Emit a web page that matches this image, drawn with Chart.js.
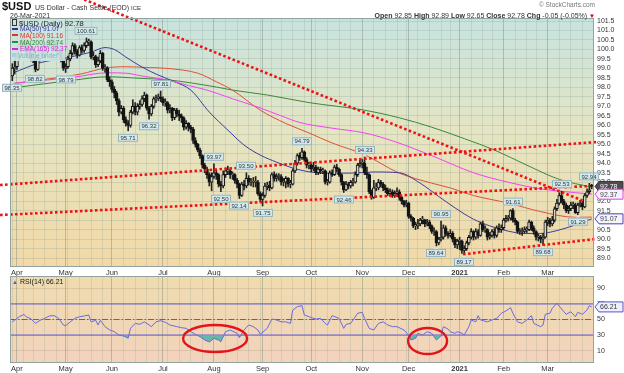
<!DOCTYPE html>
<html><head><meta charset="utf-8">
<script src="https://cdn.jsdelivr.net/npm/chart.js@4.4.1/dist/chart.umd.min.js"></script>
<style>
html,body{margin:0;padding:0;background:#fff;}
#wrap{position:relative;width:624px;height:373px;overflow:hidden;font-family:"Liberation Sans",Arial,sans-serif;color:#222;}
canvas{position:absolute;left:0;}
.t{position:absolute;white-space:nowrap;line-height:1;}
.mk{display:inline-block;width:6px;height:2px;vertical-align:middle;margin-right:2px;position:relative;top:-1px;}
</style></head><body>
<div id="wrap">
<canvas id="cMain" width="624" height="276" style="top:0;width:624px;height:276px"></canvas>
<canvas id="cRsi" width="624" height="105" style="top:268px;width:624px;height:105px"></canvas>
<div class="t" style="left:2px;top:1px;font-size:11px;font-weight:bold;color:#111">$USD</div>
<div class="t" style="left:35px;top:3.5px;font-size:7px;color:#333">US Dollar - Cash Settle (EOD) <span style="font-size:6px">ICE</span></div>
<div class="t" style="left:10px;top:12px;font-size:7px;color:#333">26-Mar-2021</div>
<div class="t" style="right:29px;top:2px;font-size:6.5px;color:#777">© StockCharts.com</div>
<div class="t" style="right:29px;top:11.5px;font-size:7px;color:#333"><b>Open</b> 92.85 <b>High</b> 92.89 <b>Low</b> 92.65 <b>Close</b> 92.78 <b>Chg</b> -0.05 (-0.05%) <span style="color:#c00;font-size:6px">▼</span></div>
<div style="position:absolute;left:11px;top:19px;width:54px;height:42px;background:rgba(204,228,223,0.92)"></div>
<div class="t" style="left:12px;top:19.5px;font-size:7.5px;color:#222"><span style="display:inline-block;width:3px;height:5px;border:1px solid #333;margin-right:2px;vertical-align:middle;position:relative;top:-1px"></span>$USD (Daily) 92.78</div>
<div class="t" style="left:12px;top:26.3px;font-size:6.5px;color:#33339a"><span class="mk" style="background:#33339a"></span>MA(50) 91.07</div>
<div class="t" style="left:12px;top:33px;font-size:6.5px;color:#dd3322"><span class="mk" style="background:#dd3322"></span>MA(100) 91.16</div>
<div class="t" style="left:12px;top:39.7px;font-size:6.5px;color:#2f8a2f"><span class="mk" style="background:#2f8a2f"></span>MA(200) 92.74</div>
<div class="t" style="left:12px;top:46.4px;font-size:6.5px;color:#e020e0"><span class="mk" style="background:#e020e0"></span>EMA(165) 92.37</div>
<div class="t" style="left:12px;top:53.1px;font-size:6.5px;color:#7fb2d0"><span class="mk" style="background:#a9cfe0;height:4px;width:4px"></span>Volume undef</div>
<div class="t" style="left:12px;top:278px;font-size:7px;color:#222"><span style="color:#4466cc;font-size:6px">▲</span> RSI(14) 66.21</div>
</div>
<script>
// ---------- data ----------
const opens = [
98.60,99.00,
99.10,99.62,100.20,100.45,100.50,99.90,100.10,99.55,99.50,98.95,99.50,99.90,99.70,99.90,100.25,100.40,100.45,100.40,100.00,99.90,99.50,
99.00,99.10,99.50,99.80,100.20,99.90,99.70,100.10,99.95,100.20,100.40,100.40,99.60,99.62,99.20,99.40,99.80,99.00,99.00,98.40,
98.30,97.90,97.70,97.30,96.70,96.90,96.30,96.10,96.00,96.70,97.00,96.70,97.00,97.10,97.40,97.60,96.90,96.60,97.00,97.40,97.40,97.50,
97.40,97.20,97.20,96.80,96.90,96.40,96.80,96.60,96.50,96.40,95.90,96.10,95.90,95.80,95.20,95.00,94.70,94.40,93.90,93.70,93.40,93.00,
93.30,93.50,93.40,92.90,92.80,93.40,93.60,93.60,93.40,93.40,93.10,92.90,92.30,92.90,92.80,93.20,93.00,93.00,93.00,93.00,92.40,
92.10,92.30,92.80,92.80,92.70,93.40,93.20,93.30,93.30,93.00,93.00,93.20,92.90,92.90,93.60,94.00,94.40,94.30,94.60,94.20,93.90,
93.90,93.70,93.80,93.50,93.70,93.60,93.60,93.00,93.00,93.50,93.40,93.80,93.70,93.40,93.00,92.60,92.90,92.80,93.00,93.00,93.40,93.90,
94.00,94.00,93.50,93.40,92.50,92.20,92.70,92.70,93.00,92.90,92.70,92.60,92.40,92.50,92.30,92.40,92.50,92.20,92.00,91.80,
91.90,91.20,91.10,90.70,90.70,90.80,91.00,91.00,90.80,90.90,90.70,90.40,90.40,89.80,90.00,90.10,90.60,90.30,90.20,90.30,90.00,89.70,
89.90,89.90,89.40,89.50,89.80,90.10,90.40,90.10,90.40,90.20,90.80,90.50,90.50,90.10,90.20,90.40,90.20,90.60,90.50,
90.60,91.00,91.10,91.10,91.50,91.00,90.90,90.40,90.40,90.40,90.50,90.50,90.90,90.60,90.40,90.10,90.10,90.00,90.10,
90.90,91.00,90.80,91.00,91.60,91.90,92.30,92.00,91.80,91.50,91.60,91.80,91.80,91.40,91.80,91.90,91.70,92.30,92.50,92.85];
const highs = [
99.25,99.45,
99.80,100.35,100.55,100.58,100.55,100.30,100.20,99.80,99.60,99.65,100.05,100.00,100.05,100.40,100.55,100.58,100.55,100.45,100.15,100.00,99.55,
99.25,99.65,99.95,100.35,100.30,100.00,100.20,100.25,100.35,100.61,100.55,100.45,99.85,99.70,99.60,99.95,99.85,99.20,99.10,98.55,
98.40,98.05,97.80,97.40,97.05,97.00,96.45,96.25,96.80,97.35,97.20,97.15,97.30,97.55,97.75,97.65,97.00,97.10,97.50,97.60,97.65,97.81,
97.50,97.40,97.25,97.10,96.95,96.90,96.90,96.80,96.60,96.45,96.25,96.15,96.00,95.90,95.35,95.05,94.80,94.45,94.00,93.80,93.50,93.50,
93.97,93.65,93.45,93.05,93.60,93.75,93.85,93.70,93.55,93.45,93.20,92.95,93.00,93.10,93.50,93.35,93.20,93.25,93.30,93.10,92.50,
92.45,92.95,93.00,93.05,93.50,93.55,93.45,93.45,93.40,93.20,93.30,93.25,93.10,93.70,94.15,94.50,94.55,94.79,94.65,94.30,94.05,
94.00,94.05,93.90,93.80,93.80,93.75,93.65,93.15,93.60,93.65,93.90,93.95,93.75,93.45,93.05,93.05,93.00,93.10,93.20,93.55,94.00,94.15,
94.20,94.33,93.80,93.45,92.60,93.10,92.95,93.15,93.10,93.00,92.85,92.70,92.65,92.60,92.55,92.70,92.60,92.25,92.05,92.05,
91.95,91.30,91.15,90.90,91.05,91.10,91.20,91.05,91.05,91.00,90.75,90.60,90.45,90.10,90.95,90.75,90.70,90.40,90.50,90.40,90.10,90.00,
90.10,89.95,89.65,89.90,90.20,90.55,90.45,90.55,90.50,90.90,90.95,90.70,90.55,90.35,90.50,90.55,90.70,90.80,90.75,
91.10,91.25,91.25,91.55,91.61,91.10,90.95,90.55,90.60,90.65,90.65,91.00,90.95,90.70,90.45,90.25,90.20,90.30,91.00,
91.15,91.10,91.20,91.70,92.10,92.45,92.53,92.10,91.90,91.75,91.95,91.95,91.90,91.90,92.05,92.00,92.40,92.65,92.94,92.89];
const lows = [
98.35,98.70,
98.95,99.45,100.05,100.20,99.75,99.70,99.40,99.30,98.82,98.90,99.40,99.55,99.55,99.80,100.10,100.20,100.15,99.85,99.70,99.35,98.90,
98.79,99.00,99.40,99.70,99.75,99.55,99.65,99.80,99.85,100.10,100.20,99.50,99.45,99.05,99.10,99.30,98.90,98.80,98.30,98.05,
97.75,97.45,97.10,96.50,96.60,96.15,95.95,95.71,95.90,96.60,96.55,96.55,96.85,97.00,97.25,96.80,96.32,96.50,96.90,97.20,97.30,97.25,
97.05,97.00,96.65,96.65,96.25,96.30,96.45,96.25,96.15,95.75,95.80,95.70,95.60,95.05,94.85,94.60,94.25,93.75,93.50,93.20,92.80,92.55,
93.20,93.15,92.75,92.50,92.70,93.25,93.40,93.20,93.15,92.95,92.70,92.14,92.25,92.60,92.70,92.85,92.80,92.75,92.75,92.30,91.95,
91.75,92.20,92.60,92.55,92.65,93.05,93.05,93.10,92.85,92.80,92.70,92.75,92.70,92.85,93.50,93.90,94.15,94.20,94.10,93.75,93.70,
93.55,93.60,93.40,93.40,93.45,93.45,92.90,92.85,92.95,93.30,93.35,93.55,93.30,92.85,92.46,92.55,92.65,92.70,92.80,92.95,93.30,93.80,
93.75,93.40,93.20,92.40,92.10,92.15,92.55,92.60,92.75,92.55,92.45,92.30,92.25,92.20,92.20,92.25,92.05,91.85,91.70,91.70,
91.10,90.95,90.60,90.50,90.55,90.70,90.80,90.65,90.70,90.55,90.30,90.20,89.64,89.70,89.90,90.00,90.15,90.05,90.10,89.85,89.55,89.50,
89.45,89.25,89.17,89.40,89.70,90.00,89.95,90.00,90.05,90.15,90.40,90.35,89.95,90.00,90.10,90.05,90.10,90.35,90.35,
90.50,90.90,90.95,91.00,90.90,90.75,90.30,90.25,90.20,90.30,90.35,90.45,90.45,90.25,89.95,89.90,89.80,89.68,90.05,
90.70,90.65,90.70,90.90,91.50,91.80,91.90,91.60,91.40,91.35,91.50,91.60,91.35,91.29,91.70,91.55,91.65,92.20,92.40,92.65];
const closes = [
99.02,99.05,
99.60,100.20,100.45,100.50,99.90,100.10,99.52,99.50,98.95,99.50,99.90,99.70,99.90,100.25,100.40,100.45,100.40,100.00,99.90,99.50,99.02,
99.10,99.50,99.80,100.20,99.90,99.70,100.10,99.95,100.20,100.40,100.40,99.60,99.62,99.20,99.40,99.80,99.00,99.00,98.40,98.30,
97.90,97.70,97.30,96.70,96.90,96.30,96.10,96.00,96.70,97.00,96.70,97.00,97.10,97.40,97.60,96.90,96.60,97.00,97.40,97.40,97.50,97.40,
97.20,97.20,96.80,96.90,96.40,96.80,96.60,96.50,96.40,95.90,96.10,95.90,95.80,95.20,95.00,94.70,94.40,93.90,93.70,93.40,93.00,93.30,
93.50,93.40,92.90,92.80,93.40,93.60,93.60,93.40,93.40,93.10,92.90,92.30,92.90,92.80,93.20,93.00,93.00,93.00,93.00,92.40,92.10,
92.30,92.80,92.80,92.70,93.40,93.20,93.30,93.30,93.00,93.00,93.20,92.90,92.90,93.60,94.00,94.40,94.30,94.60,94.20,93.90,93.90,
93.70,93.80,93.50,93.70,93.60,93.60,93.00,93.00,93.50,93.40,93.80,93.70,93.40,93.00,92.60,92.90,92.80,93.00,93.00,93.40,93.90,94.00,
94.00,93.50,93.40,92.50,92.20,92.70,92.70,93.00,92.90,92.70,92.60,92.40,92.50,92.30,92.40,92.50,92.20,92.00,91.80,91.90,
91.20,91.10,90.70,90.70,90.80,91.00,91.00,90.80,90.90,90.70,90.40,90.40,89.80,90.00,90.10,90.60,90.30,90.20,90.30,90.00,89.70,89.90,
89.90,89.40,89.50,89.80,90.10,90.40,90.10,90.40,90.20,90.80,90.50,90.50,90.10,90.20,90.40,90.20,90.60,90.50,90.60,
91.00,91.10,91.10,91.50,91.00,90.90,90.40,90.40,90.40,90.50,90.50,90.90,90.60,90.40,90.10,90.10,90.00,90.10,90.90,
91.00,90.80,91.00,91.60,91.90,92.30,92.00,91.80,91.50,91.60,91.80,91.80,91.40,91.80,91.90,91.70,92.30,92.50,92.60,92.78];

// moving averages (trading-day index, value)
const ma50Days  = [0,12,23,34,40,44,49,56,63,70,77,85,93,100,107,114,121,128,135,146,156,167,176,184,191,199,206,214,221,228,235,243,250];
const ma50Vals  = [98.75,99.3,99.55,99.86,100.1,100.0,99.6,99.07,98.65,98.3,97.86,96.7,95.75,94.96,94.43,94.06,93.75,93.55,93.48,93.48,93.54,93.5,92.95,92.25,91.65,91.05,90.7,90.42,90.3,90.3,90.45,90.75,91.07];
const ma100Days = [0,10,20,30,40,49,58,67,80,88,95,107,118,128,138,152,167,181,189,199,214,228,243,250];
const ma100Vals = [98.2,98.36,98.52,98.72,99.02,99.09,99.05,99.0,98.75,98.3,97.86,96.8,96.1,95.6,95.07,94.45,93.48,92.95,92.7,92.3,91.9,91.45,91.15,91.16];
const ma200Days = [0,27,41,55,67,88,95,110,128,152,167,181,195,208,222,236,250];
const ma200Vals = [97.97,98.39,98.56,98.48,98.4,98.02,97.86,97.6,97.2,96.8,96.4,95.9,95.3,94.7,93.9,93.15,92.74];
const ema165Days = [0,12,27,41,49,56,67,76,84,95,106,116,124,138,152,166,181,199,214,228,243,250];
const ema165Vals = [98.2,98.35,98.55,98.77,98.75,98.6,98.39,98.1,97.86,97.4,96.96,96.5,96.15,95.85,95.6,95.1,94.4,93.5,93.0,92.65,92.45,92.37];

// RSI(14)
const rsiDays = [0,1,3,5,6,8,9,10,12,14,16,18,20,22,23,25,27,29,31,33,34,36,37,38,40,42,44,46,48,50,51,53,55,57,59,60,62,64,66,68,71,73,75,77,79,81,83,85,87,89,90,92,94,97,98,100,102,104,106,107,110,112,114,116,118,120,121,123,125,126,128,129,131,133,135,136,138,141,143,144,146,149,151,152,154,156,158,160,162,164,166,169,171,172,174,175,177,179,181,182,183,185,186,188,189,191,192,194,195,197,198,200,201,202,205,207,209,211,213,215,216,218,220,222,224,225,228,229,230,232,233,235,237,239,241,243,244,246,248,249,250];
const rsiVals = [47,49,53.6,56.5,53.6,51,48,45,49,51.5,54.5,55,51.5,43,42,47,51.5,53.6,54.5,55.8,47,49,43,49,40.8,36.5,34.3,30,28.7,26,38.6,45,43.8,47,43,40.8,47,48.5,46.4,43,40.8,39.5,38.6,34.3,30.9,27.9,23.6,21,25.7,23.6,21.4,34.3,36.5,32.2,26.6,36.5,43,40.8,36.5,30.9,38.6,50.6,49.4,47,47,45,62,66.6,67.8,55.8,53.6,52.4,50.6,51.5,45,43,55,51.5,38.6,43.8,45,58,59.2,51.5,38.6,36.5,45,47,43,40.8,40.8,36.5,30,23.6,25.7,32.2,30,34.3,32.2,27.9,23.6,29.1,40.8,37.7,34.3,32.2,34.3,32.2,30,40.8,49.4,47,55,49.4,47,49.4,51.5,58,61,65.3,58,47,45,49.4,55,45,40.8,43,56.7,58,64.4,70.9,63.5,56.7,60,53.6,59.2,56.7,62.3,67.8,66.21];
const rsiLevels = [70, 50, 30];

// swing labels
const labelDays = [0,10,23,32,50,59,64,87,90,98,101,108,125,143,152,183,185,195,216,229,237,244,249];
const labelVals = [98.35,98.82,98.79,100.61,95.71,96.32,97.81,93.97,92.50,92.14,93.50,91.75,94.79,92.46,94.33,89.64,90.95,89.17,91.61,89.68,92.53,91.29,92.94];
const labelAbove = [0,0,0,1,0,0,1,1,0,0,1,0,1,0,1,0,1,0,1,0,1,0,1];

// hand-drawn trend lines [startDay, startVal, endDay, endVal]
const trendLines = [[25,102.93,246.3,92.02],[-5.3,92.85,252.3,95.12],[-5.3,91.27,249.3,92.8],[194.5,89.2,251.2,90.0]];
// hand-drawn ellipses on RSI [centerDay, centerRsi, halfDays, halfRsi]
const rsiEllipses = [[87.5,25.5,13.8,17.4],[179.2,22.3,8.4,16.8]];

// axes
const monthStarts = [2,23,43,65,87,108,129,151,171,193,212,231];
const monthNames  = ['Apr','May','Jun','Jul','Aug','Sep','Oct','Nov','Dec','2021','Feb','Mar'];
const weekStarts  = [0,5,9,14,19,24,29,34,39,43,48,53,58,63,67,72,77,82,87,92,97,102,107,112,116,121,126,131,136,141,146,151,156,161,166,170,175,180,185,189,193,198,203,207,212,217,222,226,231,236,241,246];
const priceTicks = [89.0,89.5,90.0,90.5,91.0,91.5,92.0,92.5,93.0,93.5,94.0,94.5,95.0,95.5,96.0,96.5,97.0,97.5,98.0,98.5,99.0,99.5,100.0,100.5,101.0,101.5];
const rsiTicks = [10,30,50,70,90];
const lastTags = [[92.78,'dark'],[92.37,'#e040e0'],[91.07,'#4444bb']];
const rsiLast = 66.21;

// ---------- chart ----------
Chart.defaults.font.family = '"Liberation Sans", Arial, sans-serif';
const FONT = '"Liberation Sans", Arial, sans-serif';
const X_MIN = -1, X_MAX = 251;
const tickVals = Array.from(new Set(weekStarts.concat(monthStarts))).sort((a,b)=>a-b);

function xAxis(h){
  return {type:'linear', min:X_MIN, max:X_MAX, offset:false,
    afterBuildTicks:s=>{s.ticks = tickVals.map(v=>({value:v}));},
    afterFit:s=>{s.height = h;},
    border:{display:false},
    grid:{drawTicks:false, offset:false, lineWidth:1,
      color:c=>(c.tick && monthStarts.includes(c.tick.value)) ? 'rgba(110,130,120,0.40)' : 'rgba(130,150,140,0.20)'},
    ticks:{autoSkip:false, maxRotation:0, minRotation:0, padding:1, color:'#333',
      font:c=>({family:FONT, size:7.5, weight:(c.tick && c.tick.value===193)?'bold':'normal'}),
      callback:v=>{const k = monthStarts.indexOf(v); return k>=0 ? monthNames[k] : '';}}
  };
}

const bgPlugin = {id:'bg', beforeDraw(chart, a, o){
  const {ctx, chartArea:ca} = chart; if(!ca) return;
  const g = ctx.createLinearGradient(0, ca.top, 0, ca.bottom);
  o.stops.forEach(s=>g.addColorStop(s[0], s[1]));
  ctx.save(); ctx.fillStyle = g; ctx.fillRect(ca.left, ca.top, ca.right-ca.left, ca.bottom-ca.top); ctx.restore();
}};
const borderPlugin = {id:'frame', afterDraw(chart){
  const {ctx, chartArea:ca} = chart;
  ctx.save(); ctx.strokeStyle = '#93a39f'; ctx.lineWidth = 1;
  ctx.strokeRect(ca.left+0.5, ca.top+0.5, ca.right-ca.left-1, ca.bottom-ca.top-1); ctx.restore();
}};
function drawTag(ctx, x, y, txt, fill, stroke, color){
  ctx.beginPath();
  ctx.moveTo(x, y); ctx.lineTo(x+4, y-5); ctx.lineTo(x+28, y-5); ctx.lineTo(x+28, y+5); ctx.lineTo(x+4, y+5); ctx.closePath();
  ctx.fillStyle = fill; ctx.fill(); ctx.strokeStyle = stroke; ctx.lineWidth = 1; ctx.stroke();
  ctx.fillStyle = color; ctx.font = '7px '+FONT; ctx.textAlign = 'left'; ctx.textBaseline = 'middle';
  ctx.fillText(txt, x+5, y+0.5);
}
const labelPlugin = {id:'swing', afterDatasetsDraw(chart){
  const {ctx, scales:{x, y}} = chart;
  ctx.save(); ctx.font = '6px '+FONT; ctx.textAlign = 'center'; ctx.textBaseline = 'middle';
  labelDays.forEach((d,k)=>{
    const px = Math.round(x.getPixelForValue(d)), py = y.getPixelForValue(labelVals[k]);
    const txt = labelVals[k].toFixed(2);
    const w = Math.ceil(ctx.measureText(txt).width) + 4, h = 8;
    const top = labelAbove[k] ? py - 3 - h : py + 3;
    ctx.fillStyle = '#d4e7eb'; ctx.strokeStyle = '#98b5bc'; ctx.lineWidth = 1;
    ctx.beginPath();
    if(labelAbove[k]){ ctx.moveTo(px-2.5, top+h); ctx.lineTo(px, py-0.5); ctx.lineTo(px+2.5, top+h); }
    else { ctx.moveTo(px-2.5, top); ctx.lineTo(px, py+0.5); ctx.lineTo(px+2.5, top); }
    ctx.closePath(); ctx.fill();
    ctx.fillRect(px - w/2, top, w, h); ctx.strokeRect(px - w/2 + 0.5, top + 0.5, w-1, h-1);
    ctx.fillStyle = '#2a3a40'; ctx.fillText(txt, px, top + h/2 + 0.5);
  });
  ctx.restore();
}};
const tagPlugin = {id:'tags', afterDraw(chart){
  const {ctx, scales:{y}, chartArea:ca} = chart;
  ctx.save();
  lastTags.forEach(t=>{
    const py = y.getPixelForValue(t[0]);
    if(t[1]==='dark') drawTag(ctx, ca.right+1, py, t[0].toFixed(2), '#4d4d4d', '#333', '#fff');
    else drawTag(ctx, ca.right+1, py, t[0].toFixed(2), '#f4f4ff', t[1], '#444');
  });
  ctx.restore();
}};
const rsiTagPlugin = {id:'rsitag', afterDraw(chart){
  const {ctx, scales:{y}, chartArea:ca} = chart;
  ctx.save(); drawTag(ctx, ca.right+1, y.getPixelForValue(rsiLast), rsiLast.toFixed(2), '#eef0ff', '#5555cc', '#333'); ctx.restore();
}};
const ellipsePlugin = {id:'ellipses', afterDraw(chart){
  const {ctx, scales:{x, y}} = chart;
  ctx.save(); ctx.strokeStyle = '#e5141c'; ctx.lineWidth = 2.4;
  rsiEllipses.forEach(e=>{
    const cx = x.getPixelForValue(e[0]), cy = y.getPixelForValue(e[1]);
    const rx = Math.abs(x.getPixelForValue(e[0]+e[2]) - cx), ry = Math.abs(y.getPixelForValue(e[1]+e[3]) - cy);
    ctx.beginPath(); ctx.ellipse(cx, cy, rx, ry, 0, 0, Math.PI*2); ctx.stroke();
  });
  ctx.restore();
}};

const wicks  = closes.map((c,i)=>({x:i, y:[lows[i], highs[i]]}));
const bodies = closes.map((c,i)=>({x:i, y:[Math.min(opens[i],c), Math.max(opens[i],c)]}));
const upFill = closes.map((c,i)=> c>=opens[i] ? '#d4d4c6' : '#141414');
const pts = (ds, vs)=>ds.map((d,i)=>({x:d, y:vs[i]}));
const lineDs = (data, color, order)=>({type:'line', data, borderColor:color, borderWidth:1, pointRadius:0, fill:false, cubicInterpolationMode:'monotone', order});

const trendDs = trendLines.map(t=>({type:'line', data:[{x:t[0],y:t[1]},{x:t[2],y:t[3]}], borderColor:'#f01212', borderWidth:2.6,
  borderDash:[2.6,2.4], pointRadius:0, fill:false, clip:false, order:0}));

new Chart(document.getElementById('cMain'), {
  type:'bar',
  data:{datasets:[
    ...trendDs,
    {type:'bar', data:bodies, barThickness:3, grouped:false, backgroundColor:upFill, borderColor:'#141414', borderWidth:1, borderSkipped:false, minBarLength:1, order:1},
    {type:'bar', data:wicks, barThickness:1, grouped:false, backgroundColor:'#222', borderWidth:0, order:2},
    lineDs(pts(ema165Days, ema165Vals), '#f044f0', 3),
    lineDs(pts(ma50Days, ma50Vals), '#3c3c9e', 4),
    lineDs(pts(ma100Days, ma100Vals), '#e0503a', 5),
    lineDs(pts(ma200Days, ma200Vals), '#3a8a3a', 6)
  ]},
  options:{responsive:false, animation:false, events:[],
    layout:{padding:{left:10, top:18, right:0, bottom:0}},
    plugins:{legend:{display:false}, tooltip:{enabled:false},
      bg:{stops:[[0,'#c7e3df'],[0.45,'#e4e5c3'],[1,'#f2d9a7']]}},
    scales:{
      x:xAxis(9),
      y:{type:'linear', position:'right', min:88.53, max:101.66,
        afterBuildTicks:s=>{s.ticks = priceTicks.map(v=>({value:v}));},
        afterFit:s=>{s.width = 30;},
        border:{display:false},
        grid:{drawTicks:false, color:'rgba(130,150,140,0.25)'},
        ticks:{autoSkip:false, padding:3, color:'#333', font:{family:FONT, size:7}, callback:v=>Number(v).toFixed(1)}}
    }},
  plugins:[bgPlugin, labelPlugin, borderPlugin, tagPlugin]
});

new Chart(document.getElementById('cRsi'), {
  type:'line',
  data:{datasets:[
    {data:pts(rsiDays, rsiVals), borderColor:'#6a6ae0', borderWidth:1, pointRadius:0, tension:0,
      fill:{target:{value:30}, above:'rgba(0,0,0,0)', below:'rgba(88,180,160,0.9)'}, order:0},
    ...rsiLevels.map(v=>({data:[{x:X_MIN,y:v},{x:X_MAX,y:v}], borderColor:'#5a5ad2', borderWidth:1, pointRadius:0, fill:false,
      borderDash: v===50 ? [6,2,1.5,2] : [], order:1}))
  ]},
  options:{responsive:false, animation:false, events:[],
    layout:{padding:{left:10, top:8, right:0, bottom:0}},
    plugins:{legend:{display:false}, tooltip:{enabled:false},
      bg:{stops:[[0,'#efdcae'],[1,'#f2d3bd']]}},
    scales:{
      x:xAxis(10),
      y:{type:'linear', position:'right', min:-6, max:106,
        afterBuildTicks:s=>{s.ticks = rsiTicks.map(v=>({value:v}));},
        afterFit:s=>{s.width = 30;},
        border:{display:false},
        grid:{drawTicks:false, color:'rgba(150,140,120,0.25)'},
        ticks:{autoSkip:false, padding:3, color:'#333', font:{family:FONT, size:7}}}
    }},
  plugins:[bgPlugin, borderPlugin, ellipsePlugin, rsiTagPlugin]
});
</script>
</body></html>
